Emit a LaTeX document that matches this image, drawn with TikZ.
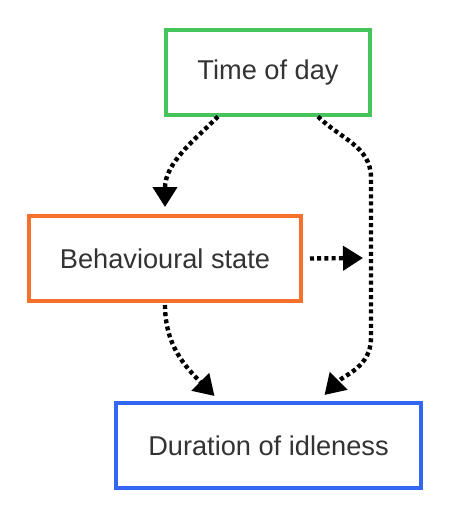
\documentclass[tikz,border=0pt]{standalone}
\usepackage{fontspec}
\setmainfont{Liberation Sans}
\usetikzlibrary{arrows.meta}
\usetikzlibrary{shadows}
\definecolor{daygreen}{HTML}{44C45A}
\definecolor{stateorange}{HTML}{F5702A}
\definecolor{durblue}{HTML}{3366F2}
\definecolor{txtgray}{HTML}{333333}

\begin{document}
\begin{tikzpicture} [x=.5pt, y=-.5pt, box/.style={draw, line width=2pt, fill=white, minimum height=42.5pt, text=txtgray, font=\fontsize{13.6}{16}\selectfont, drop shadow={opacity=.12, shadow xshift=.8pt, shadow yshift=-.8pt}}, dep/.style={black, line width=2.2pt, dash pattern=on 2pt off 1.6pt, -{Triangle[length=10pt, width=12pt]}}]
\useasboundingbox (0,0) rectangle (457,505);

\node[box, draw=daygreen, minimum width=102pt] (day) at (268,72) {Time of day};
\node[box, draw=stateorange, minimum width=136pt] (state) at (165,258.5) {Behavioural state};
\node[box, draw=durblue, minimum width=152.5pt] (dur) at (268.5,445.5) {Duration of idleness};
\coordinate (join) at (371,258);

\draw[dep] ([xshift=-25pt]day.south) .. controls +(-12pt,-12pt) and +(0,22pt) .. ([yshift=3.5pt]state.north);
\draw[dep] ([xshift=25pt]day.south) to[out=-45, in=90] ([yshift=40pt]join) -- ([yshift=-40pt]join) to[out=-90, in=45] ([xshift=28pt, yshift=3pt]dur.north);
\draw[dep] ([xshift=3.5pt]state.east) -- ([xshift=-4pt]join);
\draw[dep] ([yshift=-1pt]state.south) to[out=-90, in=135] ([xshift=-27pt, yshift=2.5pt]dur.north);

\end{tikzpicture}
\end{document}
